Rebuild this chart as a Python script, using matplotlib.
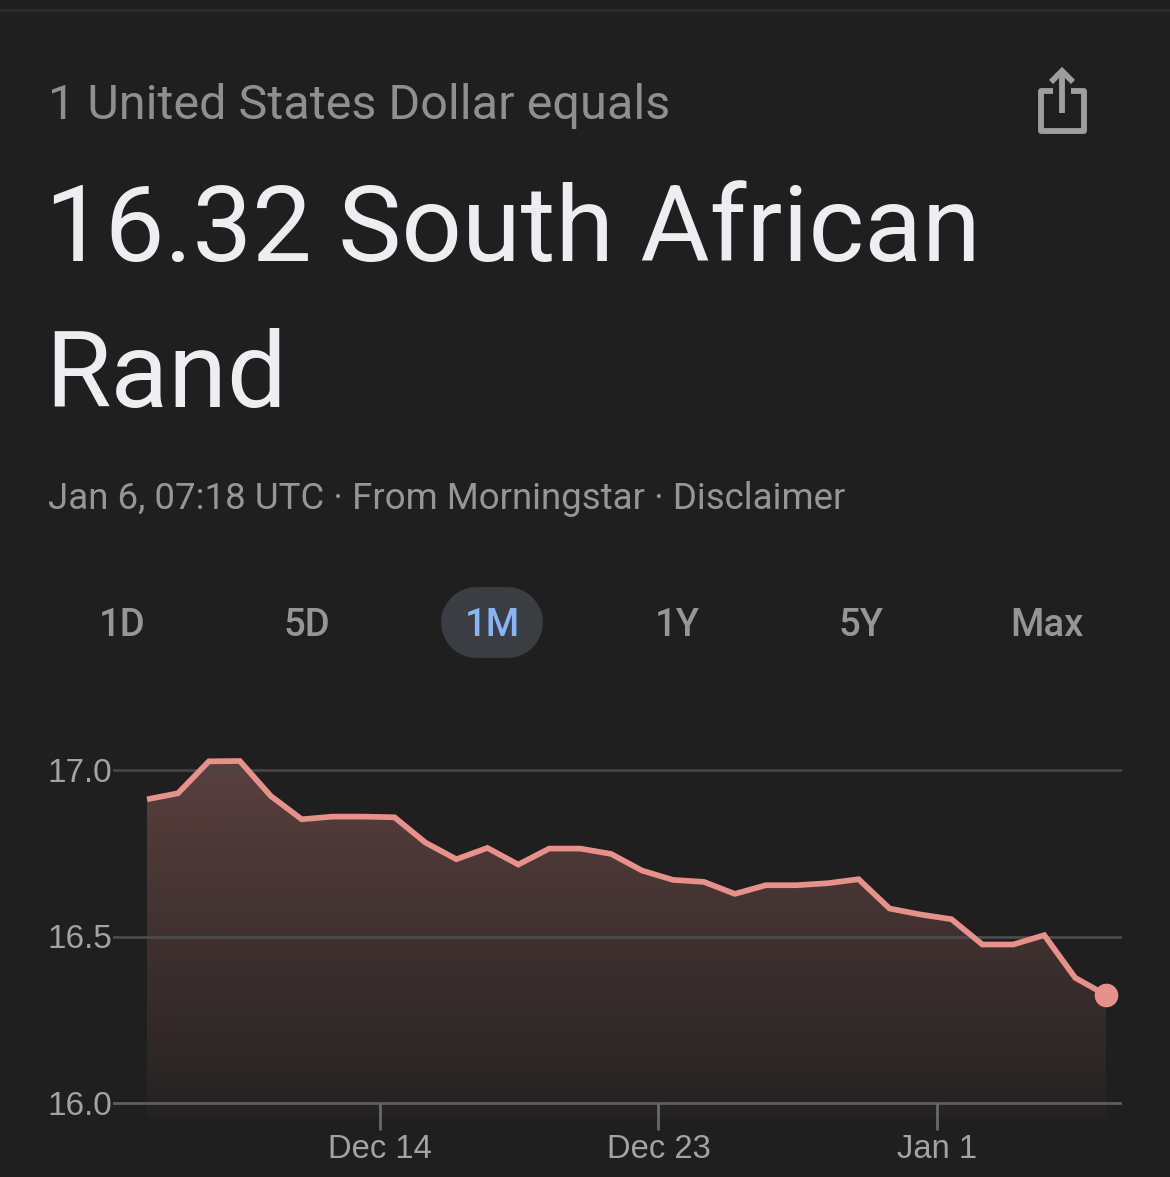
import numpy as np
import matplotlib
matplotlib.use('Agg')
import matplotlib.pyplot as plt
from matplotlib.colors import to_rgb

# one point per day, index 0 is about Dec 6
rates = [16.912, 16.930, 17.026, 17.027, 16.922, 16.852, 16.860, 16.860,
         16.858, 16.782, 16.732, 16.766, 16.716, 16.764, 16.764, 16.748,
         16.698, 16.670, 16.664, 16.628, 16.654, 16.654, 16.660, 16.672,
         16.584, 16.566, 16.552, 16.476, 16.476, 16.504, 16.376, 16.324]
y_ticks = [16.0, 16.5, 17.0]
y_labels = ['16.0', '16.5', '17.0']
x_ticks = [7.53, 16.53, 25.53]
x_labels = ['Dec 14', 'Dec 23', 'Jan 1']
ranges = ['1D', '5D', '1M', '1Y', '5Y', 'Max']

BG = '#1f1f1f'
LINE = '#e8918a'
W, H = 1170, 1177

days = np.arange(len(rates))

fig = plt.figure(figsize=(W / 100, H / 100), dpi=100, facecolor=BG)

# page furniture lives on an overlay in pixel coordinates
page = fig.add_axes([0, 0, 1, 1])
page.set_xlim(0, W)
page.set_ylim(H, 0)
page.axis('off')

page.plot([0, W], [10, 10], color='#2b2c2e', lw=2.2)
page.text(48, 106, '1 United States Dollar equals', color='#8f8f8f', fontsize=35,
          family='Roboto', va='center', ha='left')
page.text(45, 233, '16.32 South African', color='#eeeef2', fontsize=76.5,
          family='Roboto', va='center', ha='left')
page.text(45, 378, 'Rand', color='#eeeef2', fontsize=76.5,
          family='Roboto', va='center', ha='left')
page.text(48, 499, 'Jan 6, 07:18 UTC · From Morningstar · Disclaimer', color='#969696',
          fontsize=26.4, family='Roboto', va='center', ha='left')

# share icon
page.plot([1053, 1041, 1041, 1084, 1084, 1071], [91, 91, 131, 131, 91, 91],
          color='#9e9e9e', lw=4.2, solid_joinstyle='round', solid_capstyle='butt')
page.plot([1062, 1062], [73, 113], color='#9e9e9e', lw=4.2, solid_capstyle='butt')
page.plot([1051, 1062, 1073], [82, 71, 82], color='#9e9e9e', lw=4.2,
          solid_capstyle='butt', solid_joinstyle='miter')

# range selector, the pill is a fat line with round caps
page.plot([475.5, 506.5], [622, 622], color='#3a3e43', lw=51, solid_capstyle='round')
for label, cx in zip(ranges, [122, 307, 492, 677, 861, 1047]):
    active = label == '1M'
    page.text(cx, 626, label, color='#8ab4f8' if active else '#969696', fontsize=27.5,
              family='Roboto', weight='medium', ha='center', va='center')

# chart axes, 113..1122 px wide and 740..1118 px tall
ax = fig.add_axes([113 / W, 1 - 1118 / H, (1122 - 113) / W, (1118 - 740) / H])
ax.patch.set_alpha(0)
for s in ax.spines.values():
    s.set_visible(False)

# gradient fill below the line
r, g, b = to_rgb(LINE)
grad = np.zeros((256, 1, 4))
grad[..., 0], grad[..., 1], grad[..., 2] = r, g, b
grad[..., 3] = np.linspace(0.30, 0.03, 256)[:, None]
xmin, xmax = (113 - 147) / 30.94, (1122 - 147) / 30.94
ymin, ymax = 17 - (1118 - 770) / 333, 17 + (770 - 740) / 333
im = ax.imshow(grad, extent=[0, days[-1], ymin, 17.06], aspect='auto', origin='upper', zorder=1)
poly = ax.fill_between(days, rates, ymin, color='none')
im.set_clip_path(poly.get_paths()[0], transform=ax.transData)

for val, col in zip(y_ticks, ['#5e5e5e', '#4a4a4e', '#434549']):
    ax.axhline(val, color=col, lw=2.0, zorder=2)
ax.vlines(x_ticks, 15.92, 16.0, color='#686868', lw=2.0, zorder=2, clip_on=False)

ax.plot(days, rates, color=LINE, lw=4.1, zorder=3, solid_joinstyle='miter', solid_capstyle='butt')
ax.plot(days[-1], rates[-1], 'o', color=LINE, ms=17, mew=0, zorder=4)

ax.set_xlim(xmin, xmax)
ax.set_ylim(ymin, ymax)
ax.set_yticks(y_ticks, y_labels, family='Liberation Sans')
ax.set_xticks(x_ticks, x_labels, family='Liberation Sans')
ax.tick_params(axis='y', length=0, pad=0.5, labelsize=24, labelcolor='#a3a3a3')
ax.tick_params(axis='x', length=0, pad=11.5, labelsize=23.6, labelcolor='#a3a3a3')

fig.savefig('out.png', dpi=100, facecolor=BG)
